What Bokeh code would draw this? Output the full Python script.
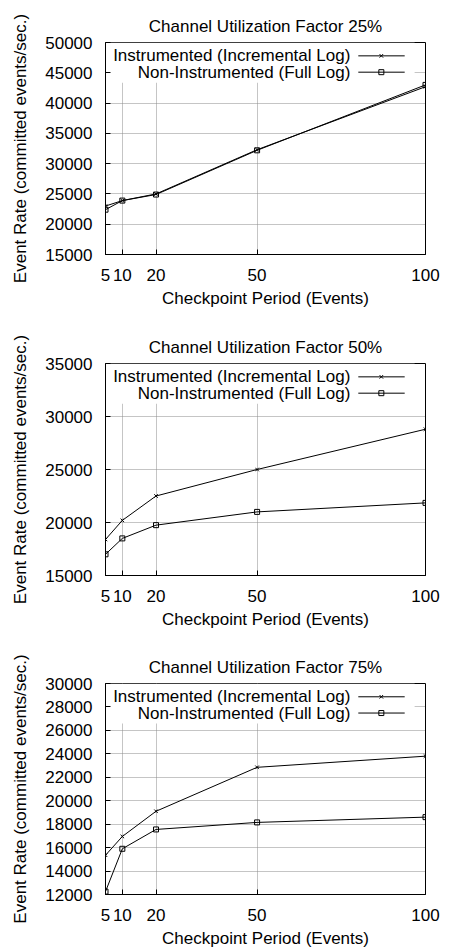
from bokeh.plotting import figure
from bokeh.layouts import column
from bokeh.models import Range1d, FixedTicker, BoxAnnotation, Label
from bokeh.embed import file_html
from bokeh.resources import INLINE

# ---------------- data ----------------
periods = [5, 10, 20, 50, 100]
x_ticks = [5, 10, 20, 50, 100]

titles = ["Channel Utilization Factor 25%",
          "Channel Utilization Factor 50%",
          "Channel Utilization Factor 75%"]

series_names = ["Instrumented (Incremental Log)", "Non-Instrumented (Full Log)"]

instr_25 = [23000, 23900, 25000, 32300, 42700]
full_25 = [22400, 23900, 24900, 32200, 43000]

instr_50 = [18400, 20200, 22500, 25000, 28800]
full_50 = [17000, 18500, 19750, 21000, 21850]

instr_75 = [15350, 16950, 19100, 22850, 23800]
full_75 = [12250, 15900, 17550, 18150, 18600]

y_ticks_25 = [15000, 20000, 25000, 30000, 35000, 40000, 45000, 50000]
y_ticks_50 = [15000, 20000, 25000, 30000, 35000]
y_ticks_75 = [12000, 14000, 16000, 18000, 20000, 22000, 24000, 26000, 28000, 30000]

x_label = "Checkpoint Period (Events)"
y_label = "Event Rate (committed events/sec.)"

FONT = "Liberation Sans"
FS = "17px"


def make_panel(title, instr, full, yticks, height, b_top, b_bottom, b_left, b_right):
    y_lo, y_hi = yticks[0], yticks[-1]
    p = figure(width=449, height=height, output_backend="svg", toolbar_location=None,
               x_range=Range1d(periods[0], periods[-1]), y_range=Range1d(y_lo, y_hi),
               min_border_top=b_top, min_border_bottom=b_bottom,
               min_border_left=b_left, min_border_right=b_right)
    p.title.text = title
    p.title.align = "center"
    p.title.vertical_align = "top"
    p.title.text_font = FONT
    p.title.text_font_size = FS
    p.title.text_font_style = "normal"
    p.title.text_color = "black"

    p.outline_line_color = "black"
    p.outline_line_width = 1
    p.background_fill_color = "white"
    p.border_fill_color = "white"

    p.xaxis.ticker = FixedTicker(ticks=x_ticks)
    p.yaxis.ticker = FixedTicker(ticks=yticks)
    for ax in (p.xaxis, p.yaxis):
        ax.major_label_text_font = FONT
        ax.major_label_text_font_size = FS
        ax.major_label_text_color = "black"
        ax.axis_label_text_font = FONT
        ax.axis_label_text_font_size = FS
        ax.axis_label_text_font_style = "normal"
        ax.axis_label_text_color = "black"
        ax.axis_line_color = "black"
        ax.major_tick_in = 5
        ax.major_tick_out = 0
        ax.major_tick_line_color = "black"
        ax.minor_tick_line_color = None
    p.xaxis.axis_label = x_label
    p.yaxis.axis_label = y_label
    p.xaxis.major_label_standoff = 14
    p.xaxis.axis_label_standoff = 5
    p.yaxis.major_label_standoff = 13
    p.yaxis.axis_label_standoff = 12

    for g in (p.xgrid, p.ygrid):
        g.grid_line_color = "#8a8a8a"
        g.grid_line_dash = "1 1"
        g.grid_line_width = 1

    # legend background (gnuplot key box, opaque, no border)
    xs = periods[-1] - periods[0]
    ys = y_hi - y_lo
    fx = lambda f: periods[0] + f * xs
    fy = lambda f: y_hi - f * ys
    box = BoxAnnotation(left=periods[0], right=fx(0.966), top=y_hi, bottom=fy(0.19),
                        fill_color="white", fill_alpha=1.0, line_color=None, level="underlay")
    p.add_layout(box)

    # data
    p.line(periods, instr, line_color="black", line_width=1)
    p.scatter(periods, instr, marker="x", size=5, line_color="black", line_width=1)
    p.line(periods, full, line_color="black", line_width=1)
    p.scatter(periods, full, marker="square", size=5, line_color="black",
              fill_color=None, line_width=1)

    # gnuplot-style key: text then sample
    for i, (name, mk) in enumerate(zip(series_names, ["x", "square"])):
        yy = fy(0.063 + i * 0.077)
        p.add_layout(Label(x=fx(0.765), y=yy, text=name, text_align="right",
                           text_baseline="middle", text_font=FONT, text_font_size=FS,
                           text_color="black"))
        p.line([fx(0.79), fx(0.935)], [yy, yy], line_color="black", line_width=1)
        if mk == "x":
            p.scatter([fx(0.862)], [yy], marker="x", size=5, line_color="black")
        else:
            p.scatter([fx(0.862)], [yy], marker="square", size=5, line_color="black",
                      fill_color=None)
    return p


p1 = make_panel(titles[0], instr_25, full_25, y_ticks_25, 320, 42, 66, 105, 21)
p2 = make_panel(titles[1], instr_50, full_50, y_ticks_50, 320, 43, 65, 102, 24)
p3 = make_panel(titles[2], instr_75, full_75, y_ticks_75, 310, 43, 55, 102, 24)

layout = column(p1, p2, p3, spacing=0)
open("out.html", "w").write(file_html(layout, INLINE))
